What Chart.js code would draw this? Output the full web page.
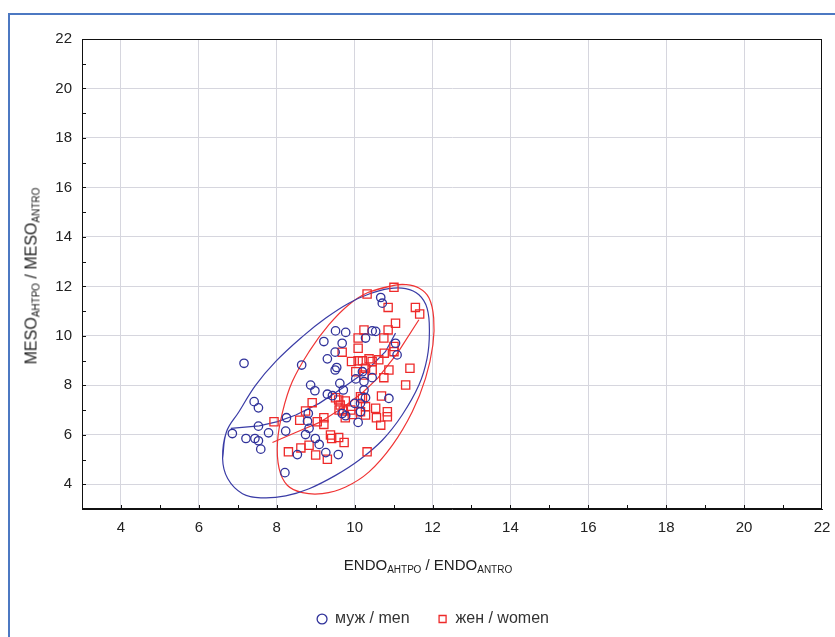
<!DOCTYPE html>
<html>

<head>
    <title>ENDO / MESO</title>
    <meta name="viewport" content="width=device-width, initial-scale=1.0">
    <script src="https://cdn.jsdelivr.net/npm/chart.js"></script>
    <style>
        body {
            margin: 0;
            background-color: #FFFFFF;
            font-family: "Liberation Sans", Arial, sans-serif;
        }
        .frame {
            position: absolute;
            left: 8px;
            top: 13px;
            width: 900px;
            height: 700px;
            border-left: 2px solid #4C78C2;
            border-top: 2px solid #4C78C2;
        }
        .chart-container {
            position: absolute;
            left: 0;
            top: 0;
            width: 835px;
            height: 637px;
        }
        .axis-title {
            position: absolute;
            color: #222;
            white-space: nowrap;
        }
        .axis-title sub {
            font-size: 10px;
            vertical-align: -3px;
        }
        #xTitle {
            left: 428px;
            top: 556px;
            font-size: 15px;
            transform: translateX(-50%);
        }
        #yTitle {
            left: 32px;
            top: 276px;
            font-size: 16px;
            transform: translate(-50%, -50%) rotate(-90deg);
        }
    </style>
</head>

<body>
    <div class="frame"></div>
    <div class="chart-container">
        <canvas id="scatterChart"></canvas>
    </div>
    <div class="axis-title" id="xTitle">ENDO<sub>АНТРО</sub> / ENDO<sub>ANTRO</sub></div>
    <div class="axis-title" id="yTitle">MESO<sub>АНТРО</sub> / MESO<sub>ANTRO</sub></div>
</body>
<script>
    // men (circles)
    var menX = [7.16, 7.42, 7.53, 6.86, 7.21, 7.44, 7.53, 7.59, 7.53, 7.79, 8.21, 8.23, 8.25, 8.53, 8.64,
        8.87, 8.98, 8.81, 8.79, 8.83, 8.74, 8.99, 9.09, 9.26, 9.58, 9.21, 9.51, 9.77, 9.30, 9.50,
        9.68, 9.50, 9.54, 9.62, 9.71, 9.30, 9.43, 9.68, 9.77, 10.09, 10.15, 10.28, 10.45, 10.54, 10.67,
        10.71, 10.24, 10.20, 10.45, 10.24, 10.03, 11.05, 11.09, 10.88, 10.00, 10.15, 10.28];
    var menY = [8.89, 7.34, 7.09, 6.05, 5.85, 5.85, 5.76, 5.42, 6.35, 6.08, 4.47, 6.15, 6.69, 5.20, 8.82,
        8.01, 7.78, 6.86, 6.55, 6.26, 6.01, 5.85, 5.61, 5.28, 5.20, 9.77, 10.20, 10.14, 9.07, 9.34,
        9.70, 8.62, 8.72, 8.08, 7.81, 7.64, 7.58, 6.86, 6.77, 6.50, 6.93, 9.91, 10.20, 10.18, 11.55,
        11.32, 8.15, 8.55, 8.31, 7.81, 8.26, 9.70, 9.23, 7.47, 7.27, 7.27, 7.50];

    // women (squares)
    var womenX = [7.93, 8.30, 8.62, 8.59, 8.74, 8.91, 8.83, 9.00, 9.21, 9.21, 9.04, 9.30, 9.38, 9.41, 9.59,
        9.73, 9.51, 9.59, 9.63, 9.71, 9.76, 9.90, 9.94, 10.15, 10.20, 10.28, 10.28, 10.54, 10.56, 10.67,
        10.84, 10.84, 10.69, 10.32, 9.68, 10.09, 10.09, 10.24, 9.92, 10.09, 10.20, 10.37, 10.45, 10.28, 10.45,
        10.24, 10.03, 10.62, 10.76, 10.75, 10.86, 11.05, 11.01, 11.01, 10.88, 10.75, 11.42, 11.31, 10.32, 11.01,
        10.86, 11.56, 11.67, 10.15, 9.60, 9.76];
    var womenY = [6.53, 5.31, 5.47, 6.59, 6.96, 7.30, 5.58, 5.18, 6.69, 6.42, 6.53, 5.01, 5.99, 5.85, 5.89,
        5.69, 7.50, 7.41, 7.20, 6.96, 6.69, 7.00, 6.82, 7.54, 7.47, 7.14, 6.80, 7.07, 6.69, 6.39,
        6.93, 6.73, 7.57, 5.31, 9.34, 9.91, 9.50, 10.24, 8.96, 8.99, 8.99, 9.07, 8.96, 8.69, 8.62,
        8.42, 8.55, 9.03, 9.30, 9.91, 10.24, 10.51, 9.57, 9.36, 8.62, 8.31, 8.69, 8.01, 11.69, 11.96,
        11.15, 11.15, 10.88, 6.93, 7.00, 7.37];

    // ellipses (closed: last point = first point)
    var menEllipseX = [6.71, 6.61, 6.74, 7.12, 7.63, 8.23, 8.83, 9.51, 10.11, 10.71, 11.22, 11.65, 11.86,
        11.92, 11.86, 11.65, 11.31, 10.88, 10.37, 9.85, 9.26, 8.66, 7.97, 7.46, 7.03, 6.71];
    var menEllipseY = [6.12, 5.04, 4.23, 3.62, 3.45, 3.53, 3.82, 4.36, 4.97, 5.78, 6.80, 8.01, 9.09,
        10.18, 11.12, 11.66, 11.91, 11.91, 11.69, 11.32, 10.72, 9.97, 8.96, 8.01, 6.93, 6.12];
    var womenEllipseX = [11.01, 10.37, 9.85, 9.34, 8.83, 8.40, 8.15, 8.02, 8.06, 8.27, 8.66, 9.17, 9.77,
        10.37, 10.97, 11.48, 11.82, 12.01, 12.03, 11.91, 11.65, 11.31, 11.01];
    var womenEllipseY = [12.04, 11.77, 11.26, 10.45, 9.36, 8.15, 6.93, 5.72, 4.64, 3.96, 3.66, 3.62, 3.89,
        4.50, 5.58, 6.93, 8.28, 9.64, 10.72, 11.53, 11.93, 12.07, 12.04];

    // fit lines
    var menFitX = [6.82, 7.55, 8.02, 8.49, 9.09, 9.68, 10.28, 10.79, 11.05];
    var menFitY = [6.26, 6.36, 6.53, 6.80, 7.27, 7.88, 8.55, 9.36, 10.11];
    var womenFitX = [7.89, 8.50, 9.10, 9.70, 10.20, 10.60, 11.10, 11.65];
    var womenFitY = [5.69, 6.10, 6.50, 7.10, 7.70, 8.30, 9.30, 10.65];

    var seriesLabels = ["муж / men", "жен / women"];

    var blue = "#30329A";
    var red = "#EE2A2A";

    function pairs(xs, ys) {
        return xs.map((x, i) => ({ x: x, y: ys[i] }));
    }

    // a closed outline gets one point of overlap on each end so the spline has no corner at the seam
    function closedPairs(xs, ys) {
        var p = pairs(xs, ys);
        var n = p.length;
        return [p[n - 2]].concat(p, [p[1]]);
    }

    function curve(data, color, smooth) {
        return {
            data: data,
            showLine: true,
            borderColor: color,
            borderWidth: 1.2,
            pointRadius: 0,
            fill: false,
            tension: smooth ? 0.4 : 0
        };
    }

    // statistica style frame with inward minor ticks
    var frameTicks = {
        id: "frameTicks",
        afterDraw(chart) {
            var ctx = chart.ctx;
            var a = chart.chartArea;
            var xs = chart.scales.x;
            var ys = chart.scales.y;
            ctx.save();
            ctx.strokeStyle = "#111";
            ctx.lineWidth = 1;
            ctx.strokeRect(a.left + 0.5, a.top + 0.5, a.right - a.left - 1, a.bottom - a.top - 1);
            ctx.beginPath();
            for (var v = 4; v <= 21; v++) {
                var px = Math.round(xs.getPixelForValue(v)) + 0.5;
                ctx.moveTo(px, a.bottom);
                ctx.lineTo(px, a.bottom - 4);
                var py = Math.round(ys.getPixelForValue(v)) + 0.5;
                ctx.moveTo(a.left, py);
                ctx.lineTo(a.left + 4, py);
            }
            ctx.stroke();
            ctx.restore();
        }
    };

    function gridColor(c) {
        if (!c.tick) return "rgba(0,0,0,0)";
        var v = c.tick.value;
        return (v % 2 === 0 && v > 3 && v < 22) ? "#D6D6DE" : "rgba(0,0,0,0)";
    }

    var tickFont = { family: "'Liberation Sans', Arial, sans-serif", size: 15 };

    document.addEventListener("DOMContentLoaded", function() {
        var ctx = document.getElementById("scatterChart").getContext("2d");

        new Chart(ctx, {
            type: "scatter",
            data: {
                datasets: [
                    {
                        label: seriesLabels[0],
                        data: pairs(menX, menY),
                        pointStyle: "circle",
                        pointRadius: 4.2,
                        borderColor: blue,
                        backgroundColor: "rgba(0,0,0,0)",
                        borderWidth: 1.3
                    },
                    {
                        label: seriesLabels[1],
                        data: pairs(womenX, womenY),
                        pointStyle: "rect",
                        pointRadius: 5.8,
                        borderColor: red,
                        backgroundColor: "rgba(0,0,0,0)",
                        borderWidth: 1.3
                    },
                    curve(closedPairs(menEllipseX, menEllipseY), "#3A3CA6", true),
                    curve(closedPairs(womenEllipseX, womenEllipseY), "#F03434", true),
                    curve(pairs(menFitX, menFitY), "#3A3CA6", false),
                    curve(pairs(womenFitX, womenFitY), "#F03434", false)
                ]
            },
            options: {
                responsive: true,
                maintainAspectRatio: false,
                animation: false,
                events: [],
                layout: {
                    padding: { left: 44, right: 13, top: 39, bottom: 0 }
                },
                scales: {
                    x: {
                        type: "linear",
                        min: 3,
                        max: 22,
                        afterFit(scale) {
                            scale.height = 74;
                            scale.paddingLeft = 0;
                            scale.paddingRight = 0;
                        },
                        ticks: {
                            stepSize: 1,
                            autoSkip: false,
                            maxRotation: 0,
                            padding: 10,
                            color: "#222",
                            font: tickFont,
                            callback: v => (v % 2 === 0 ? v : "")
                        },
                        grid: { color: gridColor, drawTicks: false, lineWidth: 1 },
                        border: { display: true, color: "#111" }
                    },
                    y: {
                        type: "linear",
                        min: 3,
                        max: 22,
                        afterFit(scale) {
                            scale.width = 38;
                            scale.paddingTop = 0;
                            scale.paddingBottom = 0;
                        },
                        ticks: {
                            stepSize: 1,
                            autoSkip: false,
                            padding: 10,
                            color: "#222",
                            font: tickFont,
                            callback: v => (v % 2 === 0 ? v : "")
                        },
                        grid: { color: gridColor, drawTicks: false, lineWidth: 1 },
                        border: { display: true, color: "#111" }
                    }
                },
                plugins: {
                    tooltip: { enabled: false },
                    legend: {
                        position: "bottom",
                        labels: {
                            filter: item => item.datasetIndex < 2,
                            usePointStyle: true,
                            boxWidth: 10,
                            boxHeight: 7,
                            padding: 28,
                            color: "#333",
                            font: { family: "'Liberation Sans', Arial, sans-serif", size: 16 }
                        }
                    }
                }
            },
            plugins: [frameTicks]
        });
    });
</script>

</html>
